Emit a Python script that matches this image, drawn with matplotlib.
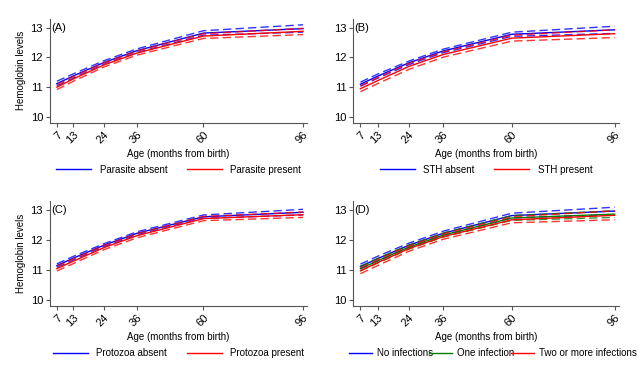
import matplotlib
matplotlib.use("Agg")
import matplotlib.pyplot as plt
import numpy as np

plt.rcParams['font.family'] = ['Liberation Sans', 'DejaVu Sans']
plt.rcParams['font.size'] = 7

ages = [7, 13, 24, 36, 60, 96]

# Panel A: parasite
a_abs = [11.12, 11.38, 11.83, 12.23, 12.82, 12.97]
a_abs_lo = [11.04, 11.31, 11.77, 12.17, 12.75, 12.85]
a_abs_hi = [11.20, 11.45, 11.89, 12.29, 12.90, 13.10]
a_pre = [11.00, 11.28, 11.75, 12.15, 12.72, 12.88]
a_pre_lo = [10.92, 11.20, 11.68, 12.08, 12.64, 12.77]
a_pre_hi = [11.08, 11.36, 11.82, 12.22, 12.80, 12.98]

# Panel B: STH
b_abs = [11.10, 11.37, 11.82, 12.22, 12.78, 12.93]
b_abs_lo = [11.03, 11.30, 11.76, 12.16, 12.71, 12.81]
b_abs_hi = [11.17, 11.44, 11.88, 12.28, 12.85, 13.05]
b_pre = [10.95, 11.22, 11.70, 12.10, 12.65, 12.80]
b_pre_lo = [10.85, 11.12, 11.60, 12.01, 12.55, 12.67]
b_pre_hi = [11.05, 11.32, 11.80, 12.19, 12.75, 12.93]

# Panel C: protozoa
c_abs = [11.15, 11.40, 11.83, 12.23, 12.78, 12.93]
c_abs_lo = [11.09, 11.34, 11.78, 12.18, 12.73, 12.84]
c_abs_hi = [11.21, 11.46, 11.88, 12.28, 12.84, 13.03]
c_pre = [11.05, 11.30, 11.75, 12.15, 12.72, 12.85]
c_pre_lo = [10.97, 11.22, 11.68, 12.08, 12.65, 12.76]
c_pre_hi = [11.13, 11.38, 11.82, 12.22, 12.79, 12.94]

# Panel D: number of infections
d_none = [11.12, 11.38, 11.83, 12.23, 12.82, 12.97]
d_none_lo = [11.04, 11.30, 11.76, 12.16, 12.74, 12.85]
d_none_hi = [11.20, 11.46, 11.90, 12.30, 12.90, 13.10]
d_one = [11.05, 11.31, 11.77, 12.17, 12.74, 12.87]
d_one_lo = [10.97, 11.23, 11.70, 12.10, 12.66, 12.76]
d_one_hi = [11.13, 11.39, 11.84, 12.24, 12.82, 12.98]
d_two = [10.98, 11.25, 11.72, 12.12, 12.68, 12.83]
d_two_lo = [10.88, 11.15, 11.63, 12.03, 12.58, 12.68]
d_two_hi = [11.08, 11.35, 11.81, 12.21, 12.78, 12.98]

BLUE = '#0000ff'
RED = '#ff0000'
GREEN = '#008000'


def draw(ax, tag, groups, ylabel):
    for mean, lo, hi, col, lab in groups:
        ax.plot(ages, hi, color=col, lw=1, ls=(0, (6, 3)), alpha=0.8)
        ax.plot(ages, lo, color=col, lw=1, ls=(0, (6, 3)), alpha=0.8)
        ax.plot(ages, mean, color=col, lw=1, label=lab)
    ax.set_xlim(4.5, 97.5)
    ax.set_ylim(9.8, 13.3)
    ax.set_xticks(ages)
    ax.set_xticklabels([str(a) for a in ages], rotation=45, ha='right',
                       rotation_mode='anchor')
    ax.set_yticks([10, 11, 12, 13])
    for s in ['top', 'right']:
        ax.spines[s].set_visible(False)
    for s in ['left', 'bottom']:
        ax.spines[s].set_color('#555555')
        ax.spines[s].set_linewidth(0.8)
    ax.tick_params(length=3, width=0.8, color='#555555', labelsize=8, pad=2)
    ax.set_xlabel('Age (months from birth)', fontsize=7, labelpad=2)
    if ylabel:
        ax.set_ylabel('Hemoglobin levels', fontsize=7, labelpad=3)
    ax.text(5.0, 13.0, tag, fontsize=8, va='center', ha='left')


fig = plt.figure(figsize=(6.4, 3.84), dpi=100)
axA = fig.add_axes([0.078, 0.680, 0.402, 0.271])
axB = fig.add_axes([0.552, 0.680, 0.415, 0.271])
axC = fig.add_axes([0.078, 0.203, 0.402, 0.273])
axD = fig.add_axes([0.552, 0.203, 0.415, 0.273])

draw(axA, '(A)', [(a_abs, a_abs_lo, a_abs_hi, BLUE, 'Parasite absent'),
                  (a_pre, a_pre_lo, a_pre_hi, RED, 'Parasite present')], True)
draw(axB, '(B)', [(b_abs, b_abs_lo, b_abs_hi, BLUE, 'STH absent'),
                  (b_pre, b_pre_lo, b_pre_hi, RED, 'STH present')], False)
draw(axC, '(C)', [(c_abs, c_abs_lo, c_abs_hi, BLUE, 'Protozoa absent'),
                  (c_pre, c_pre_lo, c_pre_hi, RED, 'Protozoa present')], True)
draw(axD, '(D)', [(d_none, d_none_lo, d_none_hi, BLUE, 'No infections'),
                  (d_one, d_one_lo, d_one_hi, GREEN, 'One infection'),
                  (d_two, d_two_lo, d_two_hi, RED, 'Two or more infections')], False)

leg_kw = dict(frameon=False, fontsize=7, handlelength=3.6, handletextpad=0.9,
              borderaxespad=0)
axA.legend(ncol=2, loc='center', bbox_to_anchor=(0.5, -0.45), columnspacing=2.0, **leg_kw)
axB.legend(ncol=2, loc='center', bbox_to_anchor=(0.5, -0.45), columnspacing=2.0, **leg_kw)
axC.legend(ncol=2, loc='center', bbox_to_anchor=(0.5, -0.45), columnspacing=2.0, **leg_kw)
axD.legend(ncol=3, loc='center', bbox_to_anchor=(0.525, -0.45), frameon=False, fontsize=7,
           handlelength=2.4, handletextpad=0.5, columnspacing=-0.4, borderaxespad=0)

fig.savefig('out.png', dpi=100)
